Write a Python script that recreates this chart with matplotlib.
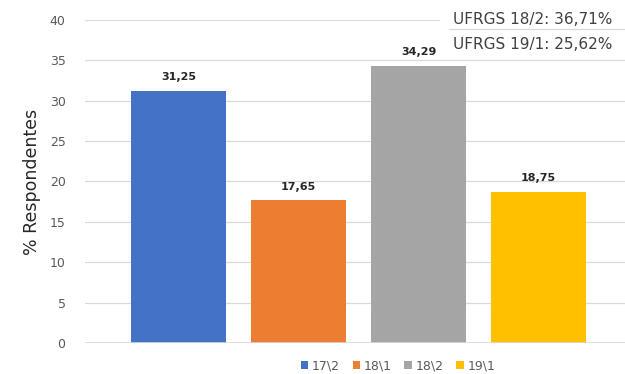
import matplotlib.pyplot as plt
from matplotlib.patches import Patch

semestres = ["17\\2", "18\\1", "18\\2", "19\\1"]
valores = [31.25, 17.65, 34.29, 18.75]
rotulos = ["31,25", "17,65", "34,29", "18,75"]
cores = ["#4472C4", "#ED7D31", "#A5A5A5", "#FFC000"]
notas = ["UFRGS 18/2: 36,71%", "UFRGS 19/1: 25,62%"]

plt.rcParams['font.family'] = ['DejaVu Sans']

fig = plt.figure(figsize=(6.25, 3.74), dpi=100)
ax = fig.add_axes([85 / 625, 1 - 343 / 374, 1 - 85 / 625, (343 - 20) / 374])

x = list(range(len(valores)))
ax.bar(x, valores, width=0.79, color=cores, zorder=3)
for xi, v, r in zip(x, valores, rotulos):
    ax.text(xi, v + 1.1, r, ha="center", va="bottom", fontsize=8,
            fontweight="bold", color="#262626", zorder=4)

ax.set_xlim(-0.78, 3.72)
ax.set_ylim(0, 40)
ax.set_yticks(range(0, 41, 5))
ax.set_xticks([])
ax.yaxis.grid(True, color="#D9D9D9", linewidth=0.9, zorder=0)
ax.axhline(0, color="#D9D9D9", linewidth=1.2, zorder=4)
for s in ax.spines.values():
    s.set_visible(False)
ax.tick_params(axis="y", length=0, labelsize=9, labelcolor="#595959", pad=14)
ax.set_ylabel("% Respondentes", fontsize=12.5, color="#262626", labelpad=6)

handles = [Patch(facecolor=c, label=s) for c, s in zip(cores, semestres)]
fig.legend(handles=handles, loc="center", bbox_to_anchor=(398 / 625, 1 - 366 / 374),
           ncol=4, frameon=False, fontsize=9, handlelength=0.6, handleheight=0.6,
           handletextpad=0.3, columnspacing=1.0, labelcolor="#595959")

# caixa de texto no canto superior direito
caixa = fig.add_axes([440 / 625, 1 - 58 / 374, 185 / 625, 58 / 374])
caixa.set_xlim(0, 1)
caixa.set_ylim(0, 1)
caixa.axis("off")
caixa.add_patch(plt.Rectangle((0, 0), 1, 1, color="white", transform=caixa.transAxes))
caixa.plot([0.05, 1], [0.5, 0.5], color="#D9D9D9", linewidth=0.9)
caixa.text(0.07, 0.66, notas[0], fontsize=11, color="#404040", va="center")
caixa.text(0.07, 0.23, notas[1], fontsize=11, color="#404040", va="center")

fig.savefig("out.png", dpi=100)
